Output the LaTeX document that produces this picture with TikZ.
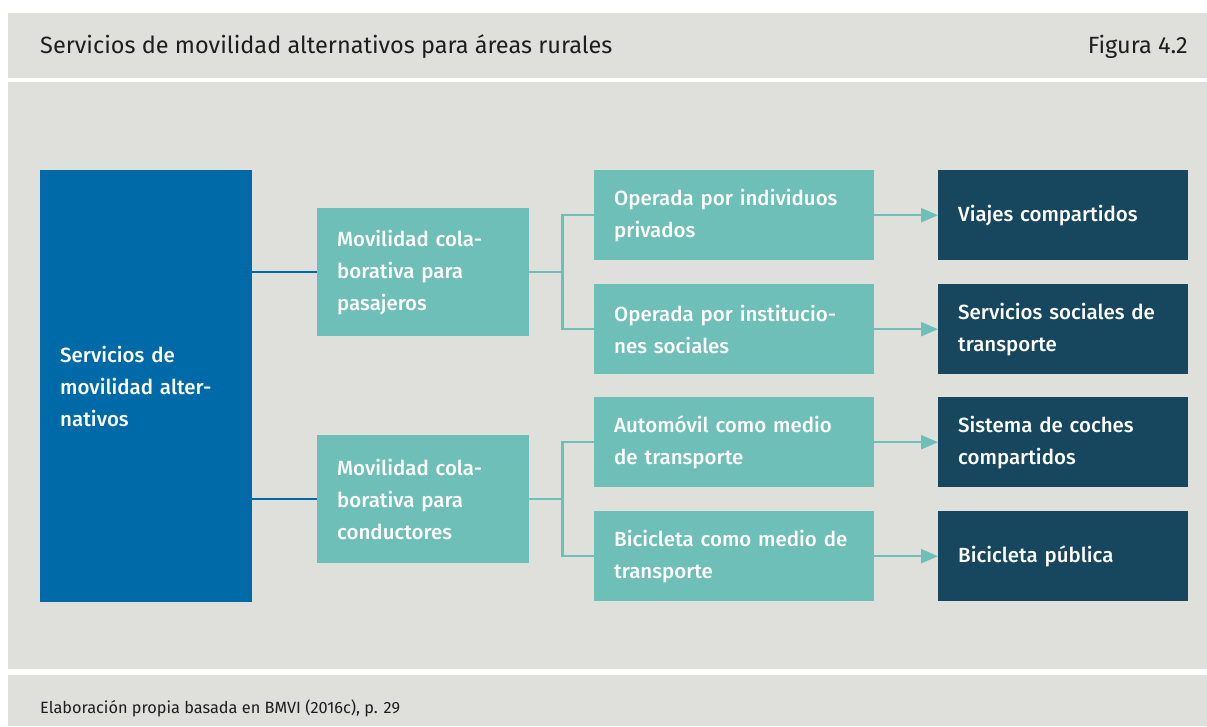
\documentclass[tikz,border=0pt]{standalone}
\usepackage{fontspec}
\setmainfont{Fira Sans}
\newfontfamily\boxfont{Fira Sans Medium}
\usetikzlibrary{arrows.meta,positioning}

\definecolor{panelgray}{RGB}{223,224,220}
\definecolor{rootblue}{RGB}{0,106,168}
\definecolor{midteal}{RGB}{110,191,184}
\definecolor{leafnavy}{RGB}{22,71,94}
\definecolor{headtext}{RGB}{30,30,30}

\tikzset{
  box/.style={anchor=north west, inner xsep=20pt, inner ysep=0pt, align=left,
    text=white, font=\boxfont\fontsize{20.5}{32}\selectfont},
  rootbox/.style={box, fill=rootblue, text width=172pt, minimum height=432pt},
  midbox/.style={box, fill=midteal, text width=172pt, minimum height=128pt},
  subbox/.style={box, fill=midteal, text width=240pt, minimum height=90pt},
  leafbox/.style={box, fill=leafnavy, text width=210pt, minimum height=90pt},
  bluelink/.style={draw=rootblue, line width=2.5pt},
  teallink/.style={draw=midteal, line width=2.5pt},
  leadarrow/.style={teallink, -{Triangle[length=17pt,width=14pt]}},
  headline/.style={inner sep=0pt, text=headtext}
}

\begin{document}
\begin{tikzpicture}[x=1pt,y=-1pt]
  \useasboundingbox (0,0) rectangle (1207,726);
  \fill[white] (0,0) rectangle (1207,726);
  % panels
  \fill[panelgray] (8,13) rectangle (1207,78);
  \fill[panelgray] (8,82) rectangle (1207,669);
  \fill[panelgray] (8,675) rectangle (1207,726);

  \node[headline, anchor=west, font=\fontsize{23.5}{28}\selectfont] (title) at (40,47)
    {Servicios de movilidad alternativos para áreas rurales};
  \node[headline, anchor=east, font=\fontsize{23.5}{28}\selectfont] (fig) at (1188,47)
    {Figura 4.2};
  \node[headline, anchor=west, font=\fontsize{16.3}{20}\selectfont] (source) at (40,708)
    {Elaboración propia basada en BMVI (2016c), p. 29};

  % boxes
  \node[rootbox] (root) at (40,170) {Servicios de\\movilidad alter-\\nativos};
  \node[midbox] (pas) at (317,208) {Movilidad cola-\\borativa para\\pasajeros};
  \node[midbox] (con) at (317,435) {Movilidad cola-\\borativa para\\conductores};
  \node[subbox] (priv) at (594,170) {Operada por individuos\\privados};
  \node[subbox] (inst) at (594,284) {Operada por institucio-\\nes sociales};
  \node[subbox] (auto) at (594,397) {Automóvil como medio\\de transporte};
  \node[subbox] (bici) at (594,511) {Bicicleta como medio de\\transporte};
  \node[leafbox] (viajes) at (938,170) {Viajes compartidos};
  \node[leafbox] (social) at (938,284) {Servicios sociales de\\transporte};
  \node[leafbox] (coches) at (938,397) {Sistema de coches\\compartidos};
  \node[leafbox] (publica) at (938,511) {Bicicleta pública};

  % connectors
  \draw[bluelink] (root.east |- pas.west) -- (pas.west);
  \draw[bluelink] (root.east |- con.west) -- (con.west);
  \coordinate (pasfork) at ([xshift=33pt]pas.east);
  \coordinate (confork) at ([xshift=33pt]con.east);
  \draw[teallink] (pas.east) -- (pasfork) |- (priv.west);
  \draw[teallink] (pasfork) |- (inst.west);
  \draw[teallink] (con.east) -- (confork) |- (auto.west);
  \draw[teallink] (confork) |- (bici.west);
  \draw[leadarrow] (priv.east) -- (viajes.west);
  \draw[leadarrow] (inst.east) -- (social.west);
  \draw[leadarrow] (auto.east) -- (coches.west);
  \draw[leadarrow] (bici.east) -- (publica.west);
\end{tikzpicture}
\end{document}
